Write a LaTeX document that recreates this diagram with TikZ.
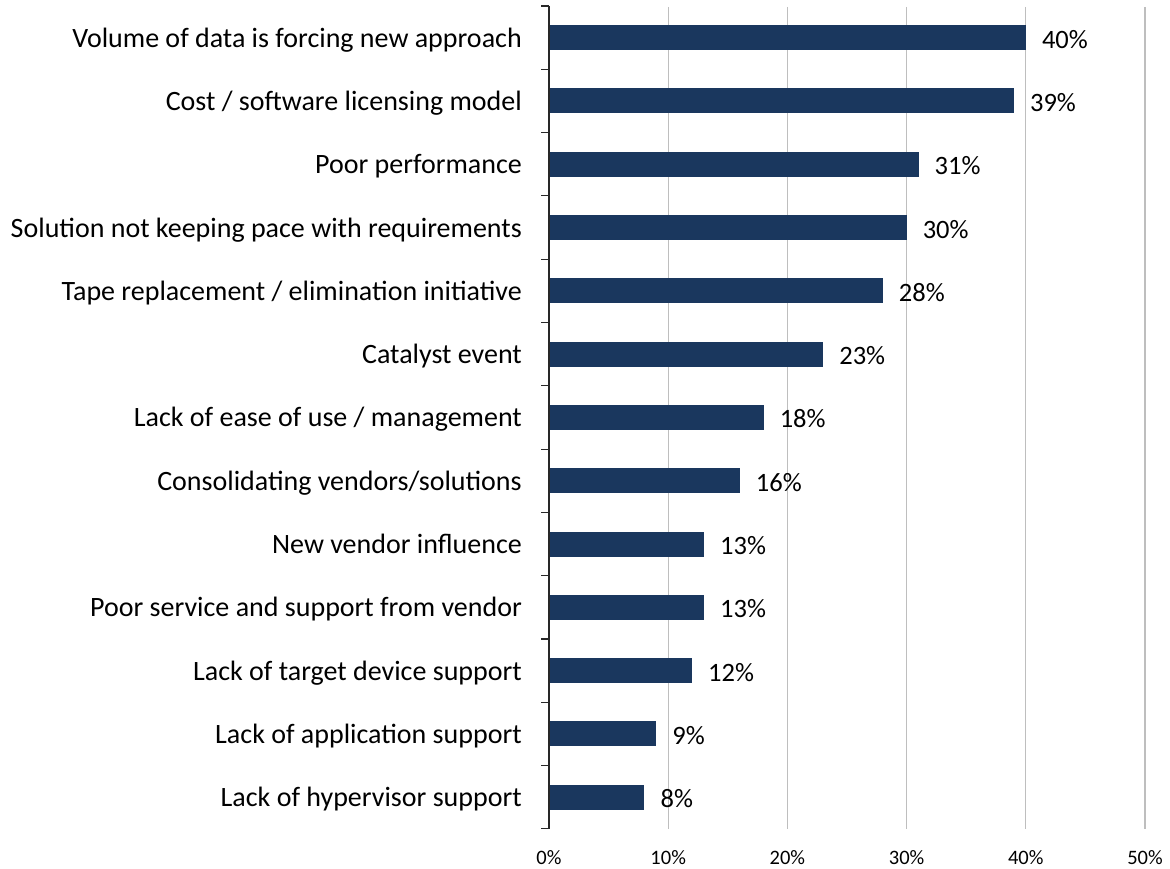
\documentclass[tikz,border=0pt]{standalone}
\usepackage{fontspec}
\setmainfont{Carlito}
\definecolor{barblue}{RGB}{26,55,94}
\definecolor{gridgray}{RGB}{190,190,190}
\definecolor{axisgray}{RGB}{40,40,40}
\tikzset{
  bar/.style={fill=barblue},
  gridline/.style={gridgray, line width=1.3pt},
  axisline/.style={axisgray, line width=1.1pt},
  catlabel/.style={anchor=base east, inner sep=0pt, font=\fontsize{28}{32}\selectfont},
  vallabel/.style={anchor=base west, inner sep=0pt, font=\fontsize{26.5}{30}\selectfont},
  ticklabel/.style={inner sep=0pt, font=\fontsize{20.5}{24}\selectfont},
}
\begin{document}
\begin{tikzpicture}[x=1pt, y=-1pt]
    \useasboundingbox (0,0) rectangle (1170,869);

    % gridlines and their tick labels
    \node[ticklabel] (tick0) at (549, 858) {0\%};
    \foreach \p in {1,...,5} {
        \draw[gridline] (549+119.2*\p, 7) -- (549+119.2*\p, 829);
        \node[ticklabel] (tick\p) at (549+119.2*\p, 858) {\p0\%};
    }

    % bars, categories and values
    \foreach [count=\i] \v/\lbl in {
        40/{Volume of data is forcing new approach},
        39/{Cost / software licensing model},
        31/{Poor performance},
        30/{Solution not keeping pace with requirements},
        28/{Tape replacement / elimination initiative},
        23/{Catalyst event},
        18/{Lack of ease of use / management},
        16/{Consolidating vendors/solutions},
        13/{New vendor influence},
        13/{Poor service and support from vendor},
        12/{Lack of target device support},
        9/{Lack of application support},
        8/{Lack of hypervisor support}} {
        \coordinate (c\i) at (549, 6+63.3*\i-31.65);
        \fill[bar] ([yshift=-12.5pt]c\i) rectangle ++(11.92*\v, -25);
        \node[catlabel] (cat\i) at ([xshift=-27pt, yshift=-9.5pt]c\i) {\lbl};
        \node[vallabel] (val\i) at ([xshift=11.92*\v+16, yshift=-10.5pt]c\i) {\v\%};
    }

    % category axis
    \draw[axisline] (549, 6) coordinate (top) -- (549, 829) coordinate (bottom);
    \foreach \k in {0,...,13}
        \draw[axisline] (541, 6+63.3*\k) -- (549, 6+63.3*\k);
\end{tikzpicture}
\end{document}
